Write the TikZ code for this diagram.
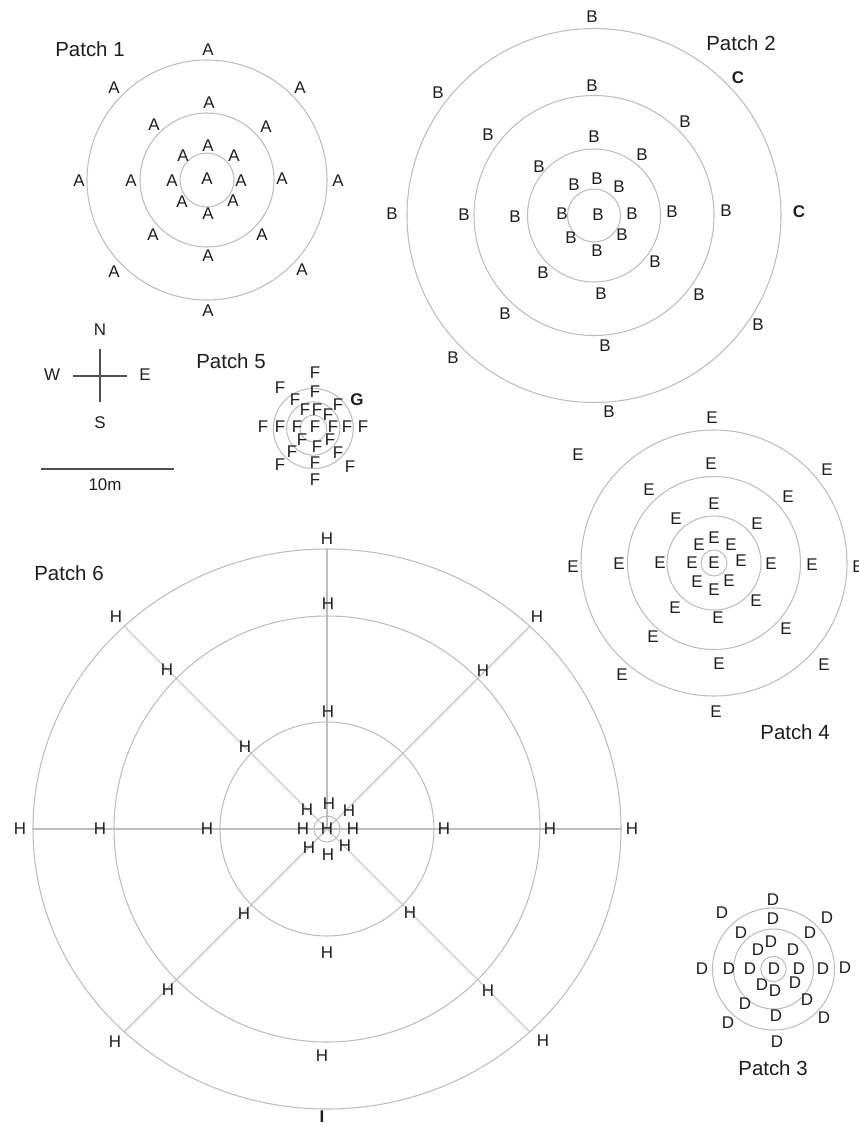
\documentclass[tikz,border=0pt]{standalone}
\usepackage{fontspec}
\setmainfont{Liberation Sans}
\definecolor{ink}{HTML}{1E1E1E}
\definecolor{ringgray}{HTML}{BDBDBD}
\definecolor{barcol}{HTML}{505050}
\tikzset{
  lab/.style={inner sep=0pt, text=ink, font=\fontsize{17}{17}\selectfont},
  blab/.style={lab, font=\fontsize{17}{17}\selectfont\bfseries},
  ttl/.style={inner sep=0pt, text=ink, font=\fontsize{20.5}{20.5}\selectfont},
  ring/.style={draw=ringgray, line width=1.05pt},
  ray/.style={draw=ringgray, line width=1.05pt},
  bar/.style={draw=barcol, line width=1.3pt}
}
\begin{document}
\begin{tikzpicture}[x=1bp, y=-1bp]
\useasboundingbox (0,0) rectangle (859,1127);
\fill[white] (0,0) rectangle (859,1127);

% ---------- Patch 1 ----------
\coordinate (p1c) at (207,180);
\foreach \r in {27,67,120} \draw[ring] (p1c) circle [radius=\r bp];
\node[ttl] (t1) at (90,49) {Patch 1};
\foreach \x/\y [count=\i] in {208/50,114/88,300/88,79/181,338/181,114/272,302/270,208/311,
  209/103,154/125,266/127,131/181,282/179,153/235,262/235,208/256,
  208/146,183/156,234/156,172/181,241/181,182/202,233/201,208/214,207/179}
  \node[lab] (a\i) at (\x,\y) {A};

% ---------- Patch 2 ----------
\coordinate (p2c) at (594,215.5);
\foreach \r in {26.5,66.5,120,187} \draw[ring] (p2c) circle [radius=\r bp];
\node[ttl] (t2) at (741,43) {Patch 2};
\node[blab] (c1) at (738,78) {C};
\node[blab] (c2) at (799,212) {C};
\foreach \x/\y [count=\i] in {592/17,438/93,392/214,453/358,609/412,758/325,
  592/86,685/122,488/135,464/215,726/211,505/314,699/295,605/346,
  594/137,642/155,539/167,515/217,672/212,543/273,655/262,601/294,
  597/179,574/185,619/187,562/214,632/214,571/238,622/235,597/251,598/215}
  \node[lab] (b\i) at (\x,\y) {B};

% ---------- Compass and scale ----------
\node[lab] (cn) at (100,330) {N};
\node[lab] (cs) at (100,423) {S};
\node[lab] (cw) at (52,375) {W};
\node[lab] (ce) at (145,375) {E};
\coordinate (vt) at (100,349); \coordinate (vb) at (100,402);
\coordinate (hl) at (73,376);  \coordinate (hr) at (127,376);
\draw[bar] (vt) -- (vb);
\draw[bar] (hl) -- (hr);
\coordinate (sl) at (41,469); \coordinate (sr) at (174,469);
\draw[bar] (sl) -- (sr);
\node[lab] (sc) at (105,485) {10m};

% ---------- Patch 5 ----------
\coordinate (p5c) at (313.3,428.5);
\foreach \r in {13.3,26.7,40} \draw[ring] (p5c) circle [radius=\r bp];
\node[ttl] (t5) at (231,361) {Patch 5};
\node[blab] (g1) at (357,400) {G};
\foreach \x/\y [count=\i] in {315/373,280/388,315/392,295/400,338/405,305/410,317/410,328/415,
  263/427,280/427,297/427,315/427,333/427,347/427,363/427,
  302/440,330/440,292/452,317/447,338/453,280/465,315/463,350/467,315/480}
  \node[lab] (f\i) at (\x,\y) {F};

% ---------- Patch 4 ----------
\coordinate (p4c) at (714,563);
\foreach \r in {13,47,86.5,133} \draw[ring] (p4c) circle [radius=\r bp];
\node[ttl] (t4) at (795,732) {Patch 4};
\foreach \x/\y [count=\i] in {712/418,578/455,827/470,573/567,858/567,622/675,824/665,716/712,
  711/464,649/490,788/497,619/564,812/565,653/637,786/629,719/664,
  714/504,676/519,757/524,660/563,771/564,675/608,756/601,718/618,
  714/538,699/545,731/545,692/563,741/561,697/582,729/581,714/590,714/563}
  \node[lab] (e\i) at (\x,\y) {E};

% ---------- Patch 3 ----------
\coordinate (p3c) at (773.5,969);
\foreach \r in {12.7,40,61} \draw[ring] (p3c) circle [radius=\r bp];
\node[ttl] (t3) at (773,1068) {Patch 3};
\foreach \x/\y [count=\i] in {773/900,722/913,827/918,702/969,845/968,728/1023,824/1018,777/1042,
  773/919,741/933,810/933,729/969,823/969,745/1004,807/1000,776/1016,
  771/942,758/950,793/950,750/969,799/969,762/985,795/983,775/991,774/969}
  \node[lab] (d\i) at (\x,\y) {D};

% ---------- Patch 6 ----------
\coordinate (p6c) at (327,829);
\coordinate (p6n) at (327,549);
\coordinate (p6w) at (33,829);
\coordinate (p6e) at (621,829);
\coordinate (p6nw) at (124.3,626.3);
\coordinate (p6ne) at (529.7,626.3);
\coordinate (p6sw) at (124.3,1031.7);
\coordinate (p6se) at (529.7,1031.7);
\draw[ray] (p6c) -- (p6n);
\draw[ray] (p6w) -- (p6e);
\draw[ray] (p6c) -- (p6nw);
\draw[ray] (p6c) -- (p6ne);
\draw[ray] (p6c) -- (p6sw);
\draw[ray] (p6c) -- (p6se);
\foreach \r in {13,107,213} \draw[ring] (p6c) circle [radius=\r bp];
\draw[ring] (p6c) ellipse [x radius=294bp, y radius=280bp];
\node[ttl] (t6) at (69,573) {Patch 6};
\node[blab] (i1) at (322,1117) {I};
\foreach \x/\y [count=\i] in {327/539,116/617,537/617,20/829,632/829,115/1042,543/1041,
  328/604,167/670,483/671,100/829,550/829,168/990,488/991,322/1056,
  328/712,245/747,207/829,444/829,244/914,410/913,327/953,
  329/804,307/810,349/811,303/829,353/829,309/848,345/846,328/855,327/829}
  \node[lab] (h\i) at (\x,\y) {H};
\end{tikzpicture}
\end{document}
